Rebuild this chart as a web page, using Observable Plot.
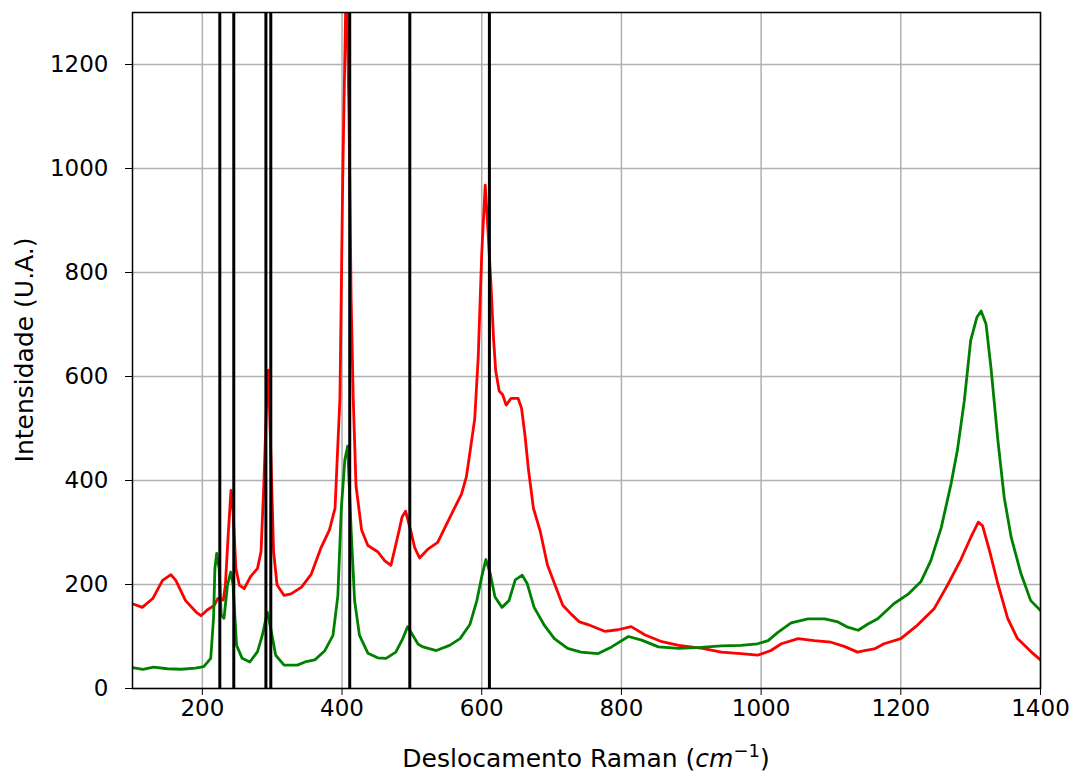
<!DOCTYPE html>
<html><head><meta charset="utf-8">
<script src="https://cdn.jsdelivr.net/npm/d3@7"></script>
<script src="https://cdn.jsdelivr.net/npm/@observablehq/plot@0.6"></script>
<style>body{margin:0;background:#fff;} svg{font-family:"DejaVu Sans";}</style>
</head><body><div id="chart"></div><script>
// Spectrum 1 (red)
const redX = [100,114,129,143,155,162,176,191,198,207,217,222,230,233,237,241,244,248,253,260,269,279,284,288,292,294.5,298,302,307,317,327,342,356,370,382,390,397,401,405,406,410,413,416,420,428,437,451,461,470,475,481,486,491,495,499,504,511,523,537,549,561,571,578,583,590,595,600,605,608,613,617,620,625,630,635,642,652,657,662,667,674,684,694,706,716,728,740,752,776,795,814,834,858,882,916,943,971,995,1014,1029,1053,1076,1100,1119,1138,1148,1162,1176,1200,1224,1248,1267,1286,1300,1311,1317,1327,1339,1353,1367,1387,1400];
const redY = [163,156,173,208,219,208,169,147,140,151,160,173,170,199,295,381,340,231,199,192,215,231,263,391,551,612,455,263,199,179,182,195,220,271,305,347,559,983,1292,1400,1100,750,559,390,305,275,263,246,237,265,300,330,341,320,300,271,251,268,281,314,347,374,407,453,519,638,836,968,902,783,671,611,572,565,545,558,558,539,486,420,347,301,238,195,160,143,128,123,110,113,119,103,90,83,77,70,67,64,73,86,96,92,89,81,70,73,76,86,96,122,154,199,248,290,320,313,265,201,135,96,70,55];
// Spectrum 2 (green)
const greenX = [100,115,130,150,170,190,202,212,216,218,220.5,224,227,231,236,240.6,244,249,257,268,279,286,293,298,305,317,336,347,361,375,387,394,399,404,408,413,418,425,437,451,463,477,487,494,501,509,516,535,554,569,583,593,600,606,612,619,629,639,648,658,665,675,689,704,723,742,766,786,810,829,853,882,914,943,971,995,1010,1024,1043,1067,1091,1110,1124,1139,1153,1167,1190,1210,1229,1243,1258,1272,1281,1291,1300,1309,1315,1322,1329,1339,1348,1358,1372,1386,1400];
const greenY = [40,37,41,38,37,39,42,58,135,231,260,231,141,135,199,224,199,83,58,51,71,103,147,115,64,45,45,51,55,72,102,178,347,440,466,305,169,102,68,59,58,70,96,119,103,85,80,73,83,96,123,169,215,248,222,176,156,169,209,218,202,156,123,96,77,70,67,80,100,93,80,77,79,82,83,86,92,108,126,134,134,128,118,112,124,134,163,181,206,246,310,394,458,554,669,714,726,701,618,477,368,291,221,169,150];
// Reference peak positions (vertical lines)
const peakLines = [225,245,291,298,411,497,611];
const xTicks = [200,400,600,800,1000,1200,1400];
const yTicks = [0,200,400,600,800,1000,1200];

const red = redX.map((x,i)=>({x, y: redY[i]}));
const green = greenX.map((x,i)=>({x, y: greenY[i]}));

const chart = Plot.plot({
  width:1075, height:772,
  marginLeft:132, marginRight:35, marginTop:12, marginBottom:84,
  style:{fontFamily:"DejaVu Sans", fontSize:"23px", color:"black", background:"white", overflow:"visible"},
  x:{domain:[100,1400], label:null},
  y:{domain:[0,1300], label:null},
  marks:[
    Plot.gridX(xTicks,{stroke:"#b0b0b0", strokeOpacity:1, strokeWidth:1.5}),
    Plot.gridY(yTicks,{stroke:"#b0b0b0", strokeOpacity:1, strokeWidth:1.5}),
    Plot.line(red,{x:"x", y:"y", stroke:"red", strokeWidth:2.8, clip:true}),
    Plot.line(green,{x:"x", y:"y", stroke:"green", strokeWidth:2.8, clip:true}),
    Plot.ruleX(peakLines,{stroke:"black", strokeWidth:3}),
    Plot.frame({stroke:"black", strokeWidth:1.5}),
    Plot.axisX({ticks:xTicks, tickSize:7, tickPadding:4, tickFormat:d=>String(d), label:null, stroke:"black", fontSize:23}),
    Plot.axisY({ticks:yTicks, tickSize:7, tickPadding:17, tickFormat:d=>String(d), label:null, stroke:"black", fontSize:23})
  ]
});
document.getElementById("chart").appendChild(chart);

const svg = d3.select(chart);
svg.append("text")
  .attr("transform","translate(26,350) rotate(-90)")
  .attr("text-anchor","middle").attr("dominant-baseline","middle")
  .attr("font-size","25px").attr("fill","black")
  .text("Intensidade (U.A.)");
const xl = svg.append("text")
  .attr("x",586).attr("y",767)
  .attr("text-anchor","middle")
  .attr("font-size","25px").attr("fill","black");
xl.append("tspan").text("Deslocamento Raman (");
xl.append("tspan").attr("font-style","italic").text("cm");
xl.append("tspan").attr("baseline-shift","super").attr("font-size","18px").text("−1");
xl.append("tspan").text(")");
</script></body></html>
